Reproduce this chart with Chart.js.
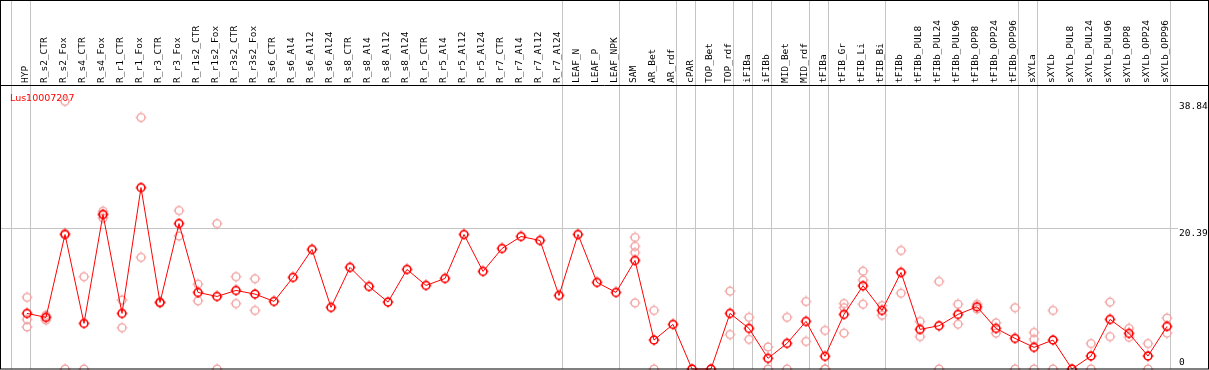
<!DOCTYPE html>
<html>
<head>
<meta charset="utf-8">
<script src="https://cdn.jsdelivr.net/npm/chart.js@4"></script>
<style>
  html, body { margin: 0; padding: 0; background: #fff; }
</style>
</head>
<body>
<canvas id="grafico" width="1209" height="370"></canvas>
<script>
const nomeGene = "Lus10007207";

const categorias = [
  "HYP", "R_s2_CTR", "R_s2_Fox", "R_s4_CTR", "R_s4_Fox", "R_r1_CTR", "R_r1_Fox",
  "R_r3_CTR", "R_r3_Fox", "R_r1s2_CTR", "R_r1s2_Fox", "R_r3s2_CTR", "R_r3s2_Fox",
  "R_s6_CTR", "R_s6_Al4", "R_s6_Al12", "R_s6_Al24", "R_s8_CTR", "R_s8_Al4",
  "R_s8_Al12", "R_s8_Al24", "R_r5_CTR", "R_r5_Al4", "R_r5_Al12", "R_r5_Al24",
  "R_r7_CTR", "R_r7_Al4", "R_r7_Al12", "R_r7_Al24", "LEAF_N", "LEAF_P", "LEAF_NPK",
  "SAM", "AR_Bet", "AR_rdf", "cPAR", "TOP_Bet", "TOP_rdf", "iFIBa", "iFIBb",
  "MID_Bet", "MID_rdf", "tFIBa", "tFIB_Gr", "tFIB_Li", "tFIB_Bi", "tFIBb",
  "tFIBb_PUL8", "tFIBb_PUL24", "tFIBb_PUL96", "tFIBb_OPP8", "tFIBb_OPP24", "tFIBb_OPP96",
  "sXYLa", "sXYLb", "sXYLb_PUL8", "sXYLb_PUL24", "sXYLb_PUL96", "sXYLb_OPP8",
  "sXYLb_OPP24", "sXYLb_OPP96"
];

// media de cada amostra
const medias = [
  8.07, 7.49, 19.52, 6.62, 22.42, 8.07, 26.33, 9.66, 21.11, 11.11, 10.53, 11.40, 10.87,
  9.81, 13.29, 17.35, 8.94, 14.74, 11.98, 9.71, 14.45, 12.13, 13.14, 19.52, 14.16,
  17.49, 19.23, 18.65, 10.68, 19.52, 12.57, 11.11,
  15.75, 4.20, 6.47, 0, 0, 8.07, 5.89, 1.55, 3.72, 6.91, 1.84, 7.92, 12.08, 8.50, 14.01,
  5.75, 6.28, 7.92, 9.03, 5.89, 4.44,
  3.14, 4.20, 0, 1.88, 7.20, 5.17, 1.88, 6.18
];

// replicas (null = sem replica visivel)
const rep1 = [
  10.4, 7.8, 38.84, 13.4, 22.9, 10.0, 36.5, 9.7, 23.0, 12.3, 21.1, 13.4, 13.1,
  null, null, null, null, null, null, null, null, null, null, null, null,
  null, null, null, null, null, null, null,
  19.1, 8.5, null, null, null, 11.3, 7.5, 3.2, 7.5, 9.8, 5.6, 9.5, 14.2, 9.2, 17.2,
  6.9, 12.7, 9.4, 9.4, 6.7, 8.9,
  5.3, 8.5, null, 3.7, 9.7, 5.9, 3.7, 7.4
];
const rep2 = [
  7.2, 7.5, 0, 0, 22.5, 6.0, 16.2, 9.6, 19.3, 9.9, 0, 9.5, 8.5,
  null, null, null, null, null, null, null, null, null, null, null, null,
  null, null, null, null, null, null, null,
  17.8, 0, null, null, null, 5.0, 4.3, 0, 0, 4.0, 0, 8.9, 12.9, 7.8, 11.0,
  4.7, 0, 6.5, 8.7, 5.2, 0,
  4.3, 0, null, 0, 4.7, 4.6, 0, 5.2
];
const rep3 = [
  6.1, 7.1, 19.7, null, 21.9, null, null, null, null, null, null, null, null,
  null, null, null, null, null, null, null, null, null, null, null, null,
  null, null, null, null, null, null, null,
  16.9, null, null, null, null, null, null, null, null, null, 0, 5.2, 9.4, null, null,
  null, null, null, null, null, null,
  0, null, null, null, null, null, null, null
];
const rep4 = [
  null, null, null, null, null, null, null, null, null, null, null, null, null,
  null, null, null, null, null, null, null, null, null, null, null, null,
  null, null, null, null, null, null, null,
  9.6, null, null, null, null, null, null, null, null, null, null, null, null, null, null,
  null, null, null, null, null, null,
  null, null, null, null, null, null, null, null
];

const ticksY = [0, 20.39, 38.84];
// ultimo indice de cada grupo (linha cinza logo depois)
const fimGrupos = [-1, 0, 28, 31, 34, 35, 37, 38, 39, 41, 42, 45, 52, 53, 60];

const VERMELHO = "#ff0000";
const ROSA = "#f2a0a0";
const CINZA = "#c4c4c4";
const FONTE_MONO = "9.5px 'DejaVu Sans Mono', monospace";

function criarMarcador(cor, espessura) {
  const c = document.createElement("canvas");
  c.width = 12;
  c.height = 12;
  const g = c.getContext("2d");
  g.strokeStyle = cor;
  g.lineWidth = espessura;
  g.beginPath();
  g.arc(6, 6, 3.9, 0, Math.PI * 2);
  g.stroke();
  g.fillStyle = cor;
  g.fillRect(5.5, 0.5, 1, 1.5);
  g.fillRect(5.5, 10, 1, 1.5);
  g.fillRect(0.5, 5.5, 1.5, 1);
  g.fillRect(10, 5.5, 1.5, 1);
  return c;
}

function pontos(valores) {
  return valores.map((v, i) => (v === null ? null : { x: i, y: v })).filter(p => p);
}

const marcadorRosa = criarMarcador(ROSA, 1.3);
const marcadorVermelho = criarMarcador(VERMELHO, 1.6);

function datasetReplica(valores) {
  return {
    data: pontos(valores),
    showLine: false,
    pointStyle: marcadorRosa,
    pointRadius: 5,
    clip: false
  };
}

const desenhoExtra = {
  id: "desenhoExtra",
  beforeDatasetsDraw(chart) {
    const ctx = chart.ctx;
    const x = chart.scales.x;
    ctx.save();
    ctx.strokeStyle = CINZA;
    ctx.lineWidth = 1;
    fimGrupos.forEach(i => {
      const px = Math.floor(x.getPixelForValue(i + 0.2)) + 0.5;
      ctx.beginPath();
      ctx.moveTo(px, 0);
      ctx.lineTo(px, chart.chartArea.bottom);
      ctx.stroke();
    });
    ctx.fillStyle = VERMELHO;
    ctx.font = "9.5px 'DejaVu Sans', sans-serif";
    ctx.textBaseline = "alphabetic";
    ctx.fillText(nomeGene, 10, 101);
    ctx.restore();
  },
  afterDraw(chart) {
    const ctx = chart.ctx;
    const y = chart.scales.y;
    const area = chart.chartArea;
    ctx.save();
    ctx.fillStyle = "#000";
    ctx.font = FONTE_MONO;
    ctx.textAlign = "left";
    ctx.textBaseline = "alphabetic";
    ticksY.forEach(v => {
      const py = y.getPixelForValue(v);
      const base = v === 0 ? py - 3.7 : py + 7.5;
      ctx.fillText(String(v), area.right + 1, base);
    });
    // moldura e linha do cabecalho
    ctx.strokeStyle = "#000";
    ctx.lineWidth = 1;
    ctx.strokeRect(0.5, 0.5, chart.width - 1, chart.height - 1.5);
    ctx.beginPath();
    ctx.moveTo(0, area.top - 0.5);
    ctx.lineTo(chart.width, area.top - 0.5);
    ctx.stroke();
    ctx.restore();
  }
};

const ctx = document.getElementById("grafico").getContext("2d");

new Chart(ctx, {
  type: "line",
  data: {
    datasets: [
      {
        data: pontos(medias),
        borderColor: VERMELHO,
        borderWidth: 1,
        pointStyle: marcadorVermelho,
        pointRadius: 5,
        tension: 0,
        clip: false
      },
      datasetReplica(rep1),
      datasetReplica(rep2),
      datasetReplica(rep3),
      datasetReplica(rep4)
    ]
  },
  options: {
    responsive: false,
    animation: false,
    events: [],
    layout: { autoPadding: false, padding: { left: 1, right: 0, top: 0, bottom: 1 } },
    plugins: {
      legend: { display: false },
      tooltip: { enabled: false }
    },
    scales: {
      x: {
        type: "linear",
        position: "top",
        min: -26 / 19,
        max: -26 / 19 + 1177 / 19,
        afterBuildTicks: s => { s.ticks = categorias.map((_, i) => ({ value: i })); },
        afterFit: s => {
          s.height = 86;
          s.paddingLeft = 0;
          s.paddingRight = 0;
        },
        grid: { display: false, drawTicks: false },
        border: { display: false },
        ticks: {
          autoSkip: false,
          minRotation: 90,
          maxRotation: 90,
          padding: 3,
          labelOffset: 10,
          color: "#000",
          font: { family: "'DejaVu Sans Mono', monospace", size: 9.5 },
          callback: v => categorias[v]
        }
      },
      y: {
        position: "right",
        min: 0,
        max: 41.07,
        afterBuildTicks: s => { s.ticks = ticksY.map(v => ({ value: v })); },
        afterFit: s => {
          s.width = 31;
          s.paddingTop = 0;
          s.paddingBottom = 0;
        },
        ticks: { display: false },
        border: { display: false },
        grid: {
          drawTicks: false,
          lineWidth: 1,
          color: c => (c.tick && c.tick.value === 20.39 ? CINZA : "rgba(0,0,0,0)")
        }
      }
    }
  },
  plugins: [desenhoExtra]
});
</script>
</body>
</html>
